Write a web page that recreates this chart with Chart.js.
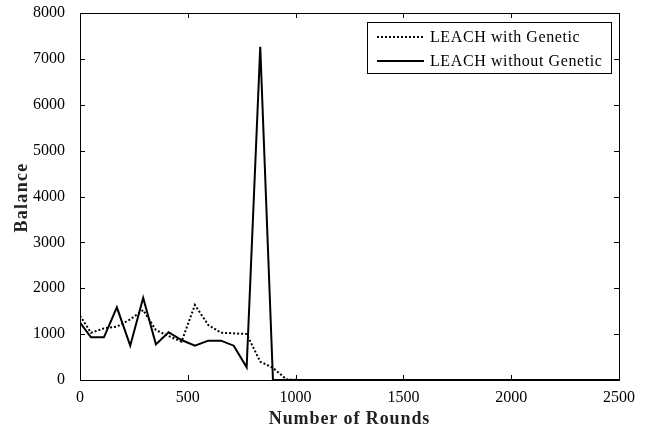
<!DOCTYPE html>
<html>
<head>
<meta charset="utf-8">
<script src="https://cdn.jsdelivr.net/npm/chart.js@4"></script>
<style>
html,body{margin:0;padding:0;background:#fff;}
canvas{display:block;}
</style>
</head>
<body>
<canvas id="c" width="651" height="428"></canvas>
<script>
const rounds = [0, 51, 111, 171, 233, 293, 352, 411, 471, 533, 595, 654, 713, 773, 836, 895, 957, 1017, 2500];
const withGenetic = [1400, 1031, 1125, 1162, 1322, 1525, 1089, 958, 835, 1634, 1198, 1031, 1017, 1002, 399, 265, 15, 0, 0];
const withoutGenetic = [1250, 930, 930, 1584, 748, 1793, 777, 1039, 871, 748, 857, 857, 748, 276, 7262, 0, 0, 0, 0];
const seriesNames = ['LEACH with Genetic', 'LEACH without Genetic'];
const xTicks = [0, 500, 1000, 1500, 2000, 2500];
const yTicks = [0, 1000, 2000, 3000, 4000, 5000, 6000, 7000, 8000];
const xTitle = 'Number of Rounds';
const yTitle = 'Balance';

const FONT = "'Liberation Serif', 'Times New Roman', serif";

const frame = {
  id: 'frame',
  afterDatasetsDraw(chart) {
    const {ctx, chartArea: a, scales} = chart;
    ctx.save();
    ctx.strokeStyle = '#000';
    ctx.lineWidth = 1;
    ctx.strokeRect(a.left + 0.5, a.top + 0.5, a.right - a.left, a.bottom - a.top);
    const L = 5;
    ctx.beginPath();
    xTicks.forEach(v => {
      const x = Math.round(scales.x.getPixelForValue(v)) + 0.5;
      ctx.moveTo(x, a.bottom); ctx.lineTo(x, a.bottom - L);
      ctx.moveTo(x, a.top); ctx.lineTo(x, a.top + L);
    });
    yTicks.forEach(v => {
      const y = Math.round(scales.y.getPixelForValue(v)) + 0.5;
      ctx.moveTo(a.left, y); ctx.lineTo(a.left + L, y);
      ctx.moveTo(a.right, y); ctx.lineTo(a.right - L, y);
    });
    ctx.stroke();

    // axis titles
    ctx.fillStyle = '#222';
    ctx.font = 'bold 18px ' + FONT;
    ctx.textAlign = 'center';
    ctx.textBaseline = 'middle';
    ctx.letterSpacing = '0.9px';
    ctx.fillText(xTitle, (a.left + a.right) / 2, 419);
    ctx.save();
    ctx.translate(22, (a.top + a.bottom) / 2 + 1);
    ctx.rotate(-Math.PI / 2);
    ctx.letterSpacing = '1.3px';
    ctx.fillText(yTitle, 0, 0);
    ctx.restore();

    // legend
    const bx = 367, by = 22, bw = 244, bh = 51;
    ctx.fillStyle = '#fff';
    ctx.fillRect(bx, by, bw, bh);
    ctx.strokeRect(bx + 0.5, by + 0.5, bw, bh);
    ctx.font = '16px ' + FONT;
    ctx.textAlign = 'left';
    ctx.textBaseline = 'middle';
    ctx.letterSpacing = '0.6px';
    ctx.fillStyle = '#000';
    chart.data.datasets.forEach((ds, i) => {
      const y = by + 15 + i * 24;
      ctx.save();
      ctx.strokeStyle = ds.borderColor;
      ctx.lineWidth = ds.borderWidth;
      ctx.setLineDash(ds.borderDash || []);
      ctx.beginPath();
      ctx.moveTo(377, y); ctx.lineTo(424, y);
      ctx.stroke();
      ctx.restore();
      ctx.fillText(ds.label, 430, y + 1);
    });
    ctx.restore();
  }
};

new Chart(document.getElementById('c'), {
  type: 'line',
  data: {
    datasets: [
      {
        label: seriesNames[0],
        data: rounds.map((r, i) => ({x: r, y: withGenetic[i]})),
        borderColor: '#000',
        borderWidth: 2,
        borderDash: [2, 2],
        pointRadius: 0,
        tension: 0,
        fill: false
      },
      {
        label: seriesNames[1],
        data: rounds.map((r, i) => ({x: r, y: withoutGenetic[i]})),
        borderColor: '#000',
        borderWidth: 2,
        pointRadius: 0,
        tension: 0,
        fill: false
      }
    ]
  },
  options: {
    responsive: false,
    animation: false,
    layout: {padding: {top: 13, right: 32, left: 0, bottom: 0}},
    plugins: {legend: {display: false}, tooltip: {enabled: false}},
    scales: {
      x: {
        type: 'linear',
        min: 0, max: 2500,
        afterBuildTicks: s => { s.ticks = xTicks.map(v => ({value: v})); },
        afterFit: s => { s.height = 48; s.paddingLeft = 0; s.paddingRight = 0; },
        grid: {display: false},
        border: {display: true, color: '#000', width: 1},
        ticks: {color: '#000', font: {family: FONT, size: 16}, padding: 0, maxRotation: 0,
                callback: v => String(v)}
      },
      y: {
        min: 0, max: 8000,
        afterBuildTicks: s => { s.ticks = yTicks.map(v => ({value: v})); },
        afterFit: s => { s.width = 80; s.paddingTop = 0; s.paddingBottom = 0; },
        grid: {display: false},
        border: {display: true, color: '#000', width: 1},
        ticks: {color: '#000', font: {family: FONT, size: 16}, padding: 7,
                callback: v => String(v)}
      }
    }
  },
  plugins: [frame]
});
</script>
</body>
</html>
